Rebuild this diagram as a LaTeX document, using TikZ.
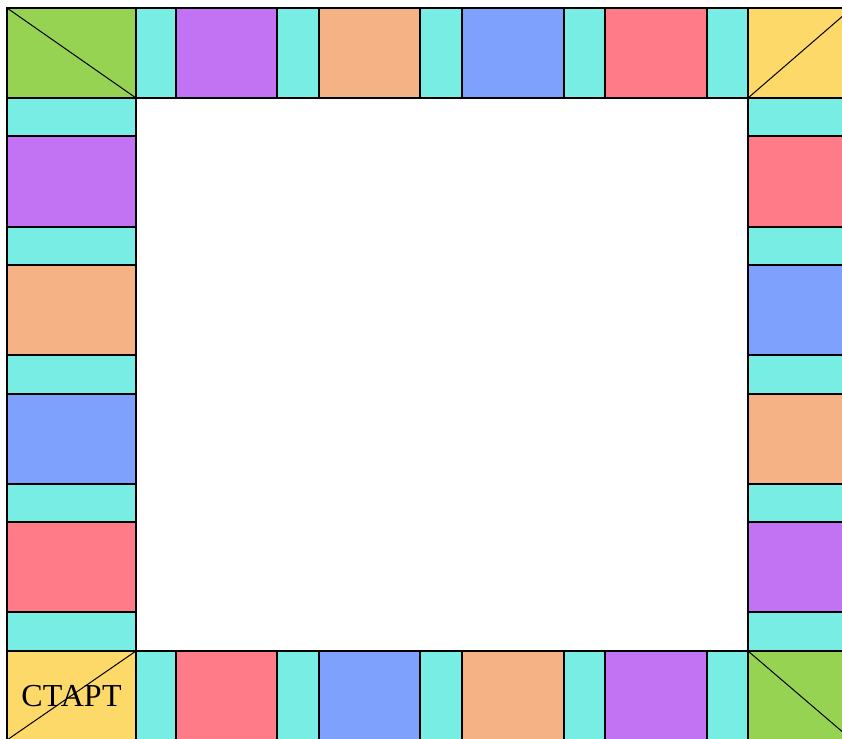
\documentclass[tikz,border=0pt]{standalone}
\usepackage{fontspec}
\setmainfont{Liberation Serif}
\definecolor{boardgreen}{HTML}{96D353}
\definecolor{boardyellow}{HTML}{FDD96A}
\definecolor{boardcyan}{HTML}{77EDE4}
\definecolor{boardpurple}{HTML}{C173F3}
\definecolor{boardorange}{HTML}{F4B285}
\definecolor{boardblue}{HTML}{7EA1FE}
\definecolor{boardred}{HTML}{FE7B87}

\begin{document}
\begin{tikzpicture}[
    x=1pt, y=-1pt,
    cell/.style={draw=black, line width=2pt},
    diag/.style={draw=black, line width=1pt},
    label/.style={font=\fontsize{32}{38}\selectfont, inner sep=0pt}
  ]
    \clip (0,0) rectangle (842,738);

    % top and bottom rows
    \foreach \xa/\xb/\ctop/\cbot in {136/176/boardcyan/boardcyan, 176/277/boardpurple/boardred,
        277/319/boardcyan/boardcyan, 319/420/boardorange/boardblue, 420/462/boardcyan/boardcyan,
        462/564/boardblue/boardorange, 564/605/boardcyan/boardcyan, 605/707/boardred/boardpurple,
        707/748/boardcyan/boardcyan}{
      \filldraw[cell, fill=\ctop] (\xa,8) rectangle (\xb,98);
      \filldraw[cell, fill=\cbot] (\xa,651) rectangle (\xb,740);
    }

    % left and right columns
    \foreach \ya/\yb/\cleft/\cright in {98/136/boardcyan/boardcyan, 136/227/boardpurple/boardred,
        227/265/boardcyan/boardcyan, 265/355/boardorange/boardblue, 355/394/boardcyan/boardcyan,
        394/484/boardblue/boardorange, 484/522/boardcyan/boardcyan, 522/612/boardred/boardpurple,
        612/651/boardcyan/boardcyan}{
      \filldraw[cell, fill=\cleft] (7,\ya) rectangle (136,\yb);
      \filldraw[cell, fill=\cright] (748,\ya) rectangle (852,\yb);
    }

    % corners
    \filldraw[cell, fill=boardgreen] (7,8) rectangle (136,98);
    \draw[diag] (7,8) -- (136,98);
    \filldraw[cell, fill=boardyellow] (748,8) rectangle (852,98);
    \draw[diag] (748,98) -- (852,8);
    \filldraw[cell, fill=boardyellow] (7,651) rectangle (136,740);
    \draw[diag] (136,651) -- (7,740);
    \filldraw[cell, fill=boardgreen] (748,651) rectangle (852,740);
    \draw[diag] (748,651) -- (852,740);

    \node[label] (start) at (71.5,696) {СТАРТ};
  \end{tikzpicture}
\end{document}
